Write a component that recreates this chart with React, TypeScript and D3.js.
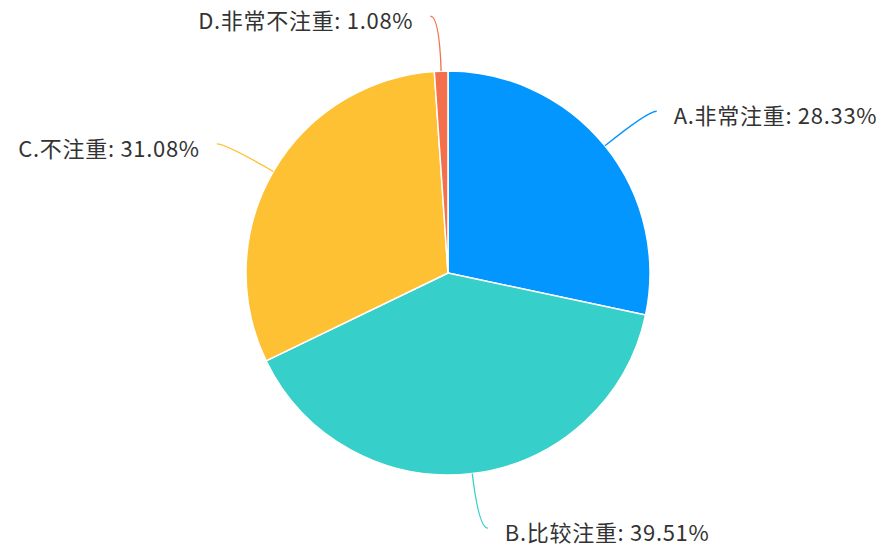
import React from 'react';
import * as d3 from 'd3';

const categories = ['A.非常注重', 'B.比较注重', 'C.不注重', 'D.非常不注重'];
const values = [28.33, 39.51, 31.08, 1.08];
const colors = ['#0396FF', '#36CFC9', '#FEC133', '#F4704C'];

const W = 889;
const H = 546;
const cx = 448;
const cy = 273;
const R = 202;
const L1 = 55;
const L2 = 9;
const GAP = 17;

export default function App() {
  const pie = d3
    .pie<number>()
    .sort(null)
    .value((d) => d)
    .startAngle(0)
    .endAngle(Math.PI * 2);
  const arcs = pie(values);
  const arc = d3.arc<d3.PieArcDatum<number>>().innerRadius(0).outerRadius(R);

  return (
    <svg
      width={W}
      height={H}
      style={{ position: 'absolute', left: 0, top: 0, background: '#fff' }}
      fontFamily="'Noto Sans CJK SC', 'Noto Sans', sans-serif"
    >
      <g transform={`translate(${cx},${cy})`}>
        {arcs.map((a, i) => (
          <path key={'s' + i} d={arc(a) || ''} fill={colors[i]} stroke="#fff" strokeWidth={1.5} strokeLinejoin="round" />
        ))}
        {arcs.map((a, i) => {
          const m = (a.startAngle + a.endAngle) / 2;
          const sx = Math.sin(m);
          const sy = -Math.cos(m);
          const side = sx >= 0 ? 1 : -1;
          const p0 = [R * sx, R * sy];
          const p1 = [(R + L1) * sx, (R + L1) * sy];
          const p2 = [p1[0] + side * L2, p1[1]];
          const d = `M${p0[0]},${p0[1]} Q${p1[0]},${p1[1]} ${p2[0]},${p2[1]}`;
          return (
            <g key={'l' + i}>
              <path d={d} fill="none" stroke={colors[i]} strokeWidth={1.3} />
              <text
                x={p2[0] + side * GAP}
                y={p2[1] + 3}
                textAnchor={side > 0 ? 'start' : 'end'}
                dominantBaseline="central"
                fontSize={22}
                letterSpacing={0.7}
                fill="#333"
              >
                {`${categories[i]}: ${values[i].toFixed(2)}%`}
              </text>
            </g>
          );
        })}
      </g>
    </svg>
  );
}
